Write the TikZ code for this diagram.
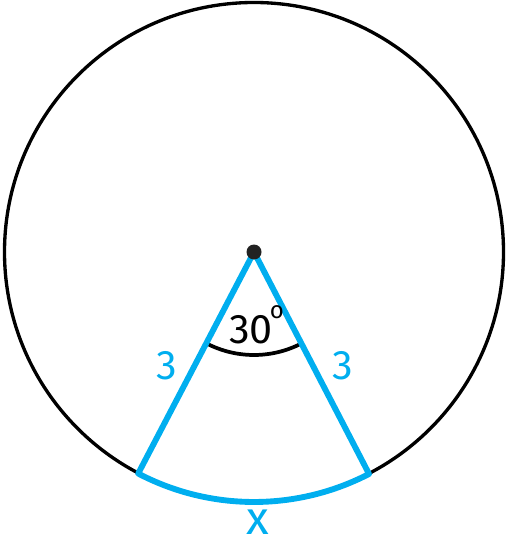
\documentclass[tikz,border=0pt]{standalone}
\usepackage{fontspec}
\setmainfont{Fira Sans}
\usetikzlibrary{calc}
\definecolor{skyb}{HTML}{00AEEF}
\definecolor{dotc}{HTML}{222222}
\begin{document}
\begin{tikzpicture}[x=0.75pt,y=-0.75pt,
  circ/.style={draw=black,line width=2.5pt},
  bluel/.style={draw=skyb,line width=4.4pt,line join=round},
  angarc/.style={draw=black,line width=2.8pt},
  lbl/.style={inner sep=0pt,font=\fontsize{31}{31}\selectfont},
  blbl/.style={lbl,text=skyb}]
\useasboundingbox (0,0) rectangle (506,545);
\coordinate (O) at (254,252);
\draw[circ] (O) circle[radius=249.5];
\coordinate (A) at ($(O)+(117.6:250)$);
\coordinate (B) at ($(O)+(62.6:250)$);
\coordinate (C) at ($(O)+(117.6:103)$);
\draw[angarc] (C) arc[start angle=117.6,end angle=62.6,radius=103];
\draw[bluel] (B) -- (O) -- (A) arc[start angle=117.6,end angle=62.6,radius=250] -- cycle;
\fill[dotc] (O) circle[radius=7.5];
\node[blbl] (l3a) at (167,366) {3};
\node[blbl] (l3b) at (343,366) {3};
\node[lbl] (ang) at (251,330) {30};
\node[inner sep=0pt,font=\fontsize{18}{18}\selectfont] (deg) at (277,312) {o};
\node[blbl,font=\fontsize{35}{35}\selectfont] (x) at (258,522) {x};
\end{tikzpicture}
\end{document}
